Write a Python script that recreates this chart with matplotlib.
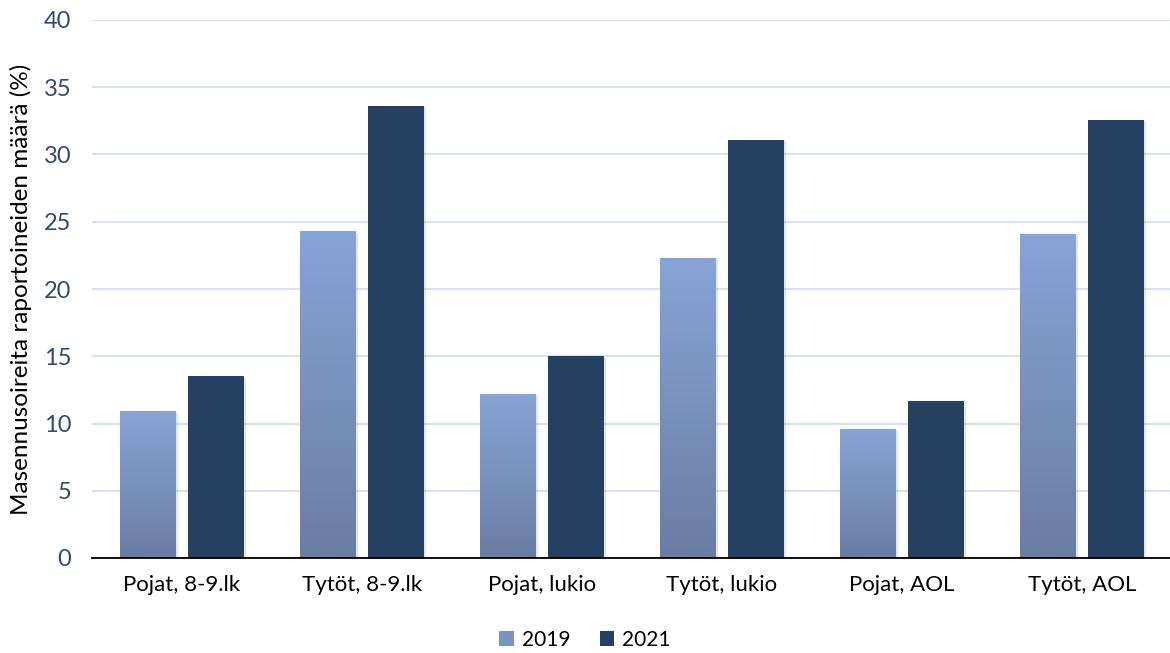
import numpy as np
import matplotlib
matplotlib.use("Agg")
import matplotlib.pyplot as plt
from matplotlib import patheffects
from matplotlib.colors import LinearSegmentedColormap
from matplotlib.patches import Patch

categories = ["Pojat, 8-9.lk", "Tytöt, 8-9.lk", "Pojat, lukio", "Tytöt, lukio", "Pojat, AOL", "Tytöt, AOL"]
values_2019 = [10.9, 24.3, 12.2, 22.3, 9.6, 24.1]
values_2021 = [13.5, 33.6, 15.0, 31.1, 11.7, 32.6]
series_labels = ["2019", "2021"]
y_ticks = [0, 5, 10, 15, 20, 25, 30, 35, 40]

plt.rcParams["font.family"] = ["Lato", "DejaVu Sans"]

fig = plt.figure(figsize=(11.7, 6.53), dpi=100)
ax = fig.add_axes([92 / 1170, 1 - 558 / 653, 1080 / 1170, 538 / 653])

x = np.arange(len(categories))
width = 0.31
offset = 0.19

grad_cmap = LinearSegmentedColormap.from_list("g2019", ["#6A7DA3", "#87A4D6"])
dark = "#264061"
shadow = [patheffects.SimplePatchShadow(offset=(1.5, -1), shadow_rgbFace="#808080", alpha=0.2),
          patheffects.Normal()]

bars19 = ax.bar(x - offset, values_2019, width, color="#7B93C0", zorder=3, path_effects=shadow)
bars21 = ax.bar(x + offset, values_2021, width, color=dark, zorder=3, path_effects=shadow)

# vertical gradient fill on the 2019 bars
grad = np.linspace(0, 1, 256).reshape(-1, 1)
for b in bars19:
    x0, y0 = b.get_x(), b.get_y()
    w, h = b.get_width(), b.get_height()
    im = ax.imshow(grad, cmap=grad_cmap, origin="lower", aspect="auto",
                   extent=[x0, x0 + w, y0, y0 + h], zorder=3.5, interpolation="bicubic")
    im.set_clip_path(b)

ax.set_xlim(-0.5, len(categories) - 0.5)
ax.set_ylim(0, 40)
ax.set_yticks(y_ticks)
ax.set_yticklabels([str(t) for t in y_ticks], color="#2E4A7A", fontsize=17)
ax.set_xticks(x)
ax.set_xticklabels(categories, fontsize=16, color="#000000")
ax.tick_params(axis="both", length=0)
ax.tick_params(axis="y", pad=15)
ax.tick_params(axis="x", pad=12)

ax.grid(axis="y", color="#D6E1F1", linewidth=1.5, zorder=0)
ax.set_axisbelow(True)
for s in ["top", "right", "left"]:
    ax.spines[s].set_visible(False)
ax.spines["bottom"].set_color("#000000")
ax.spines["bottom"].set_linewidth(1.3)
ax.spines["bottom"].set_zorder(4)

ax.set_ylabel("Masennusoireita raportoineiden määrä (%)", fontsize=17.5, labelpad=8)

handles = [Patch(facecolor="#7B93C0", label=series_labels[0]),
           Patch(facecolor=dark, label=series_labels[1])]
fig.legend(handles=handles, loc="center", bbox_to_anchor=(0.5, 1 - 640 / 653), ncol=2,
           frameon=False, fontsize=15, handlelength=0.7, handleheight=0.7,
           handletextpad=0.4, columnspacing=1.4)

fig.savefig("out.png", dpi=100)
